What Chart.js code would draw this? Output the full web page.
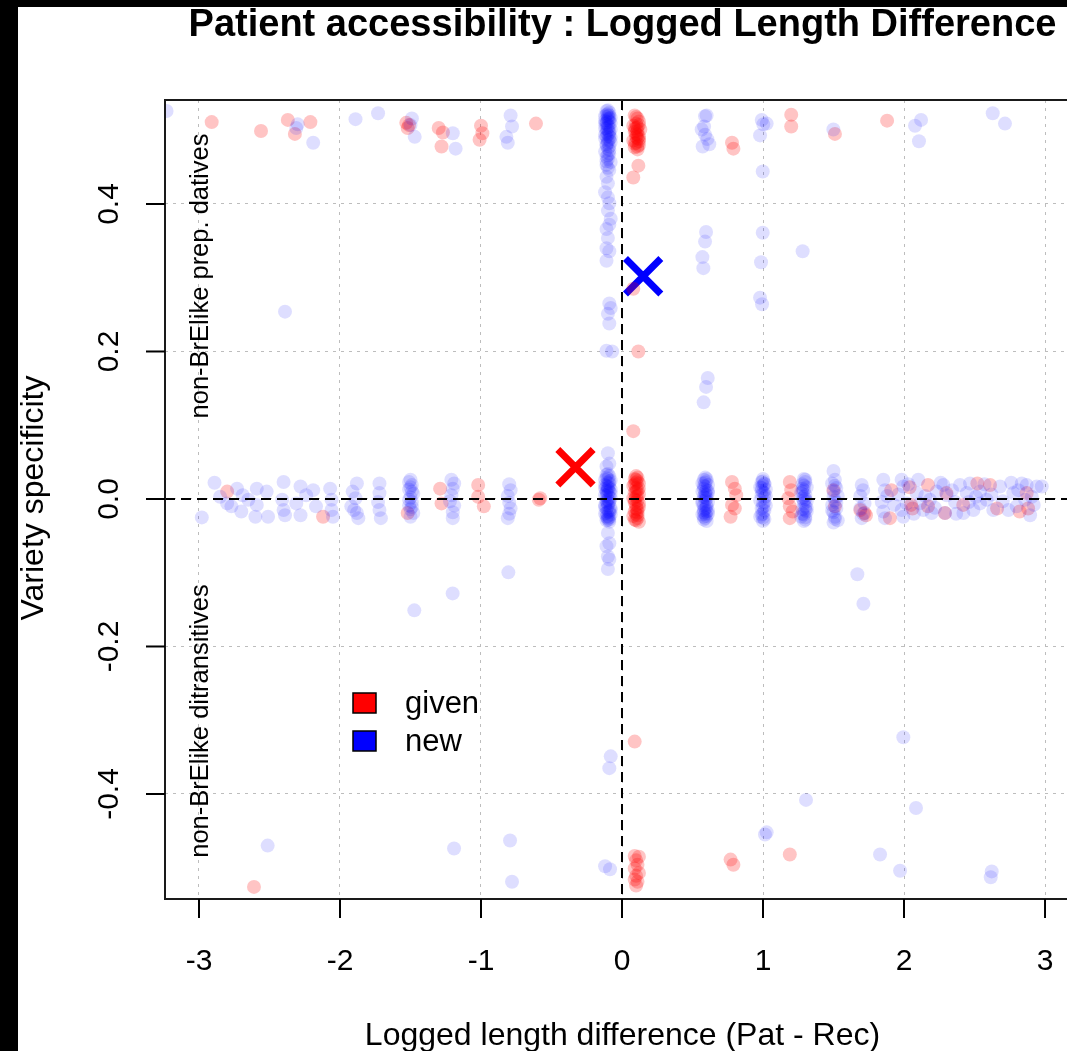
<!DOCTYPE html>
<html>
<head>
<meta charset="utf-8">
<script src="https://cdn.jsdelivr.net/npm/chart.js@4.4.1/dist/chart.umd.min.js"></script>
<style>
  html, body { margin: 0; padding: 0; background: #fff; overflow: hidden; }
  #wrap { position: relative; width: 1100px; height: 1051px; }
  #plot { position: absolute; left: 0; top: 0; }
  .band { position: absolute; background: #000; z-index: 2; }
</style>
</head>
<body>
<div id="wrap">
  <canvas id="plot" width="1100" height="1051"></canvas>
  <div class="band" style="left:0;top:0;width:18px;height:1051px"></div>
  <div class="band" style="left:0;top:0;width:1100px;height:7px"></div>
</div>
<script>
// ---- data (x = logged length difference, y = variety specificity) ----
const xTicks = [-3, -2, -1, 0, 1, 2, 3];
const yTicks = [-0.4, -0.2, 0, 0.2, 0.4];
const legendLabels = ['given', 'new'];

// new (blue)
const newTop = [
  [-3.23,0.526],[-2.31,0.503],[-2.30,0.508],[-2.19,0.483],[-1.89,0.515],[-1.73,0.523],[-1.49,0.516],
  [-1.50,0.507],[-1.47,0.491],[-1.20,0.496],[-1.18,0.475],[-0.79,0.520],[-0.78,0.505],[-0.82,0.491],
  [-0.81,0.483],[0.589,0.519],[0.60,0.520],[0.582,0.505],[0.565,0.501],[0.589,0.494],[0.605,0.488],
  [0.619,0.481],[0.572,0.478],[0.991,0.514],[1.002,0.508],[1.026,0.509],[0.979,0.493],[0.998,0.444],
  [1.499,0.501],[2.078,0.506],[2.121,0.514],[2.106,0.485],[2.629,0.523],[2.716,0.509]
];
const newStripHigh = [
  [-0.10,0.527],[-0.09,0.524],[-0.11,0.521],[-0.12,0.519],[-0.08,0.517],[-0.10,0.514],[-0.09,0.512],
  [-0.11,0.509],[-0.10,0.507],[-0.12,0.503],[-0.08,0.501],[-0.09,0.498],[-0.11,0.497],[-0.10,0.494],
  [-0.09,0.492],[-0.12,0.489],[-0.10,0.486],[-0.08,0.484],[-0.11,0.481],[-0.09,0.478],[-0.10,0.475],
  [-0.12,0.471],[-0.09,0.468],[-0.11,0.464],[-0.10,0.461],[-0.08,0.457],[-0.11,0.453],[-0.10,0.449],
  [-0.09,0.446],[-0.10,0.519],[-0.11,0.511],[-0.09,0.505],[-0.10,0.500],[-0.11,0.491],[-0.09,0.516],
  [-0.10,0.522],[-0.12,0.509],[-0.09,0.487],
  [-0.11,0.526],[-0.09,0.520],[-0.10,0.516],[-0.12,0.513],[-0.08,0.510],[-0.10,0.504],[-0.11,0.502],
  [-0.09,0.496],[-0.12,0.494],[-0.08,0.490],[-0.10,0.483],[-0.11,0.479],[-0.09,0.473],[-0.10,0.466],
  [-0.11,0.458]
];
const newStripLow = [
  [-0.11,0.437],[-0.10,0.428],[-0.12,0.416],[-0.10,0.409],[-0.09,0.401],[-0.10,0.391],[-0.08,0.380],
  [-0.09,0.372],[-0.11,0.366],[-0.10,0.354],[-0.11,0.340],[-0.09,0.336],[-0.11,0.323],[-0.09,0.265],
  [-0.08,0.259],[-0.10,0.251],[-0.09,0.238],[-0.11,0.201],[-0.07,0.200]
];
const newStripMid = [
  [-0.10,0.034],[-0.09,0.031],[-0.11,0.029],[-0.12,0.026],[-0.08,0.025],[-0.10,0.022],[-0.09,0.021],
  [-0.11,0.018],[-0.10,0.017],[-0.12,0.014],[-0.08,0.013],[-0.09,0.010],[-0.11,0.009],[-0.10,0.006],
  [-0.12,0.005],[-0.09,0.002],[-0.08,0.001],[-0.10,-0.001],[-0.11,-0.004],[-0.09,-0.005],[-0.12,-0.008],
  [-0.10,-0.009],[-0.08,-0.012],[-0.11,-0.013],[-0.09,-0.016],[-0.10,-0.017],[-0.12,-0.020],[-0.08,-0.021],
  [-0.11,-0.024],[-0.09,-0.025],[-0.10,-0.028],[-0.11,-0.029],[-0.09,-0.031],[-0.10,0.012],[-0.11,-0.002],
  [-0.09,-0.018],[-0.10,0.027],[-0.10,-0.023],
  [-0.11,0.033],[-0.09,0.024],[-0.12,0.019],[-0.10,0.015],[-0.08,0.008],[-0.11,0.004],[-0.09,-0.003],
  [-0.10,-0.006],[-0.12,-0.011],[-0.08,-0.015],[-0.11,-0.019],[-0.10,-0.026],[-0.09,-0.028],[-0.11,0.011],
  [-0.09,0.016],
  [-0.10,0.062],[-0.09,0.048],[-0.11,0.044],[-0.10,-0.046],[-0.09,-0.060],[-0.11,-0.064],[-0.10,-0.078],
  [-0.09,-0.082],[-0.10,-0.095]
];
const newMidLeft = [
  [-2.98,-0.025],[-2.89,0.022],[-2.85,0.003],[-2.80,-0.006],[-2.77,-0.010],[-2.73,0.014],[-2.69,0.005],
  [-2.70,-0.017],[-2.65,-0.001],[-2.60,-0.024],[-2.59,0.014],[-2.59,-0.008],[-2.52,0.010],[-2.51,-0.024],
  [-2.40,0.023],[-2.41,-0.001],[-2.40,-0.015],[-2.39,-0.022],[-2.31,-0.006],[-2.28,0.017],[-2.28,-0.022],
  [-2.24,0.005],[-2.19,0.012],[-2.17,-0.010],[-2.07,0.014],[-2.06,-0.001],[-2.06,-0.015],[-2.05,-0.024],
  [-1.88,0.021],[-1.91,0.010],[-1.89,0.001],[-1.92,-0.010],[-1.88,-0.019],[-1.87,-0.026],[-1.90,-0.015],
  [-1.72,0.021],[-1.72,0.008],[-1.73,-0.004],[-1.72,-0.015],[-1.71,-0.026],
  [-1.50,0.026],[-1.49,0.019],[-1.51,0.013],[-1.48,0.007],[-1.50,0.002],[-1.49,-0.004],[-1.51,-0.009],
  [-1.50,-0.014],[-1.48,-0.019],[-1.50,-0.024],[-1.49,0.010],[-1.51,-0.001],[-1.50,0.016],[-1.49,-0.011],
  [-1.51,0.023],
  [-1.21,0.026],[-1.19,0.021],[-1.20,0.014],[-1.21,0.005],[-1.22,-0.003],[-1.19,-0.009],[-1.20,-0.018],
  [-1.20,-0.026],
  [-0.80,0.020],[-0.79,0.012],[-0.81,0.004],[-0.80,-0.005],[-0.79,-0.013],[-0.80,-0.020],[-0.81,-0.026]
];
const newMidRight = [
  [0.59,0.029],[0.58,0.026],[0.60,0.024],[0.57,0.021],[0.61,0.019],[0.59,0.017],[0.58,0.014],[0.60,0.012],
  [0.57,0.010],[0.61,0.008],[0.59,0.006],[0.58,0.003],[0.60,0.001],[0.59,-0.002],[0.61,-0.004],[0.57,-0.006],
  [0.58,-0.009],[0.60,-0.011],[0.59,-0.013],[0.61,-0.016],[0.58,-0.018],[0.57,-0.021],[0.60,-0.023],
  [0.59,-0.026],[0.58,-0.028],[0.60,-0.030],[0.59,0.022],[0.60,0.005],[0.58,-0.015],[0.59,-0.020],
  [0.60,0.027],[0.58,0.018],[0.61,0.011],[0.59,0.002],[0.57,-0.003],[0.60,-0.008],[0.61,-0.020],
  [0.58,-0.024],[0.59,0.009],[0.60,-0.017],
  [1.00,0.027],[0.99,0.023],[1.01,0.020],[0.98,0.016],[1.02,0.013],[1.00,0.009],[0.99,0.005],[1.01,0.002],
  [0.98,-0.002],[1.00,-0.006],[1.02,-0.009],[0.99,-0.013],[1.01,-0.016],[1.00,-0.020],[0.98,-0.024],
  [1.01,-0.027],[1.00,-0.030],[0.99,0.011],[1.01,-0.004],[1.00,0.018],
  [1.00,0.024],[0.99,0.015],[1.02,0.004],[1.00,-0.011],[0.99,-0.021],[1.01,0.008],[1.00,-0.025],[1.01,0.021],
  [1.29,0.027],[1.30,0.023],[1.28,0.020],[1.31,0.016],[1.29,0.012],[1.27,0.008],[1.30,0.005],[1.28,0.001],
  [1.31,-0.003],[1.29,-0.006],[1.30,-0.010],[1.28,-0.014],[1.31,-0.017],[1.29,-0.021],[1.27,-0.024],
  [1.30,-0.028],[1.29,0.003],[1.30,-0.015],[1.28,0.014],[1.29,-0.030],
  [1.30,0.026],[1.28,0.010],[1.29,-0.002],[1.31,-0.012],[1.28,-0.020],[1.30,-0.025],[1.29,0.018],[1.30,0.000],
  [1.50,0.038],[1.51,0.026],[1.49,0.021],[1.52,0.015],[1.50,0.010],[1.53,0.004],[1.51,-0.002],[1.49,-0.008],
  [1.52,-0.013],[1.50,-0.018],[1.51,-0.024],[1.53,-0.029],[1.50,-0.032],
  [1.51,0.018],[1.50,0.003],[1.52,-0.005],[1.49,-0.016],[1.51,-0.027],
  [1.70,0.019],[1.71,0.012],[1.69,0.004],[1.69,-0.013],[1.71,-0.020],[1.70,-0.026],[1.72,-0.006],
  [1.853,0.026],[1.865,0.012],[1.842,-0.004],[1.853,-0.017],[1.865,-0.026],[1.983,0.026],[1.995,0.017],
  [1.983,-0.015],[1.995,-0.024],[2.019,-0.006],[2.101,0.026],[2.090,0.008],[2.113,-0.006],[2.137,-0.015],
  [2.184,-0.001],[2.196,-0.019],[2.232,0.010],[2.279,0.019],[2.303,0.005],[2.291,-0.019],[2.362,-0.004],
  [2.397,0.019],[2.445,0.008],[2.421,-0.019],[2.468,0.021],[2.492,-0.015],[2.539,0.010],[2.539,-0.006],
  [2.586,-0.001],[2.633,-0.015],[2.681,0.017],[2.740,-0.015],[2.775,0.008],[2.799,-0.010],[2.835,0.021],
  [2.858,-0.001],[2.870,0.019],[2.906,0.003],[2.894,-0.022],[2.941,0.017],[2.977,0.017],
  [1.88,0.004],[1.93,-0.008],[1.96,0.006],[2.03,0.020],[2.07,-0.020],[2.15,0.004],[2.22,-0.012],
  [2.26,0.022],[2.34,0.012],[2.37,-0.020],[2.46,-0.004],[2.51,0.003],[2.57,0.020],[2.62,0.006],
  [2.70,-0.003],[2.76,0.022],[2.81,0.012],[2.92,-0.008]
];
const newScatter = [
  [-2.39,0.254],[0.596,0.362],[0.589,0.349],[0.570,0.328],[0.577,0.313],[0.998,0.361],[0.986,0.321],
  [1.281,0.336],[0.979,0.273],[0.993,0.264],[0.608,0.164],[0.596,0.152],[0.579,0.131],
  [-0.806,-0.0995],[-1.201,-0.128],[-1.473,-0.151],[1.669,-0.102],[1.712,-0.142],[1.995,-0.323],
  [1.305,-0.408],[2.085,-0.419],[1.014,-0.455],[1.026,-0.452],[1.830,-0.482],[1.972,-0.504],
  [2.622,-0.505],[2.615,-0.513],[-2.513,-0.470],[-1.191,-0.474],[-0.794,-0.463],[-0.780,-0.519],
  [-0.08,-0.349],[-0.09,-0.365],[-0.12,-0.498],[-0.085,-0.502]
];

// given (red)
const givenTop = [
  [-2.91,0.511],[-2.56,0.499],[-2.37,0.514],[-2.32,0.495],[-2.21,0.511],[-1.53,0.510],[-1.52,0.503],
  [-1.51,0.507],[-1.30,0.503],[-1.27,0.497],[-1.28,0.478],[-1.00,0.506],[-0.99,0.496],[-1.01,0.487],
  [-0.61,0.509],[0.78,0.483],[0.79,0.475],[1.20,0.521],[1.20,0.505],[1.51,0.495],[1.88,0.513],
  [0.09,0.520],[0.11,0.516],[0.12,0.512],[0.10,0.509],[0.08,0.506],[0.11,0.504],[0.13,0.501],[0.09,0.498],
  [0.10,0.495],[0.12,0.492],[0.11,0.489],[0.08,0.486],[0.10,0.483],[0.12,0.480],[0.09,0.477],[0.11,0.474],
  [0.10,0.503],[0.11,0.494],[0.12,0.485],
  [0.10,0.518],[0.12,0.507],[0.09,0.502],[0.11,0.499],[0.10,0.491],[0.12,0.488],[0.09,0.482],[0.11,0.478],
  [0.116,0.452],[0.08,0.436],[0.08,0.285],[0.116,0.200],[0.08,0.092]
];
const givenMid = [
  [0.10,0.031],[0.09,0.027],[0.11,0.024],[0.12,0.021],[0.08,0.018],[0.10,0.015],[0.11,0.012],[0.09,0.009],
  [0.12,0.006],[0.10,0.003],[0.08,0.001],[0.11,-0.002],[0.09,-0.005],[0.10,-0.008],[0.12,-0.011],
  [0.11,-0.014],[0.09,-0.017],[0.10,-0.020],[0.08,-0.023],[0.11,-0.026],[0.10,-0.029],[0.12,-0.031],
  [0.10,0.022],[0.11,-0.018],
  [0.11,0.029],[0.09,0.020],[0.12,0.014],[0.10,0.010],[0.11,0.004],[0.09,-0.001],[0.12,-0.006],
  [0.10,-0.013],[0.11,-0.022],[0.09,-0.028],[0.10,0.026],
  [-2.80,0.010],[-2.12,-0.024],[-1.52,-0.019],[-1.29,0.014],[-1.28,-0.006],[-1.02,0.019],[-1.02,0.003],
  [-0.98,-0.010],[-0.59,-0.001],[-0.58,0.001],
  [0.78,0.023],[0.80,0.014],[0.81,0.005],[0.78,-0.008],[0.80,-0.013],[0.77,-0.024],
  [1.19,0.023],[1.20,0.012],[1.18,0.001],[1.19,-0.010],[1.21,-0.017],[1.19,-0.026],
  [1.50,0.012],[1.51,-0.010],[1.69,-0.015],[1.73,-0.022],[1.72,-0.019],[1.91,0.012],[1.90,-0.026],
  [2.04,0.016],[2.05,-0.008],[2.06,-0.013],[2.17,0.019],[2.17,-0.010],[2.30,0.008],[2.29,-0.019],
  [2.42,-0.008],[2.52,0.021],[2.61,0.019],[2.66,-0.013],[2.87,0.008],[2.88,-0.013],[2.82,-0.017]
];
const givenLow = [
  [-2.61,-0.526],[0.09,-0.329],[1.19,-0.482],[0.77,-0.489],[0.79,-0.496],
  [0.09,-0.484],[0.12,-0.485],[0.10,-0.490],[0.11,-0.496],[0.09,-0.501],[0.12,-0.507],[0.10,-0.511],
  [0.09,-0.516],[0.11,-0.519],[0.10,-0.524]
];

// group means (big crosses)
const givenMean = [-0.33, 0.043];
const newMean = [0.15, 0.302];

const FONT = '"Liberation Sans", Arial, Helvetica, sans-serif';
const toXY = pts => pts.map(([x, y]) => ({ x, y }));

// ---- extra drawing: frame, ticks, labels, reference lines, legend ----
const decor = {
  id: 'decor',
  afterDatasetsDraw(chart) {
    const { ctx, chartArea: a, scales: { x, y } } = chart;
    const x0 = x.getPixelForValue(0), y0 = y.getPixelForValue(0);
    ctx.save();
    ctx.beginPath(); ctx.rect(a.left, a.top, a.right - a.left, a.bottom - a.top); ctx.clip();
    ctx.strokeStyle = '#000'; ctx.lineWidth = 2; ctx.setLineDash([10, 6]);
    ctx.beginPath();
    ctx.moveTo(a.left, y0); ctx.lineTo(a.right, y0);
    ctx.moveTo(x0, a.top); ctx.lineTo(x0, a.bottom);
    ctx.stroke();
    ctx.restore();
  },
  afterDraw(chart) {
    const { ctx, chartArea: a, scales: { x, y } } = chart;
    ctx.save();
    // frame
    ctx.strokeStyle = '#1a1a1a'; ctx.lineWidth = 2;
    ctx.strokeRect(a.left, a.top, a.right - a.left, a.bottom - a.top);

    // tick marks + labels
    ctx.fillStyle = '#000'; ctx.strokeStyle = '#000'; ctx.lineWidth = 2;
    ctx.font = '30px ' + FONT; ctx.textAlign = 'center'; ctx.textBaseline = 'alphabetic';
    xTicks.forEach(v => {
      const px = x.getPixelForValue(v);
      ctx.beginPath(); ctx.moveTo(px, a.bottom); ctx.lineTo(px, a.bottom + 19); ctx.stroke();
      ctx.fillText(String(v), px, 970);
    });
    yTicks.forEach(v => {
      const py = y.getPixelForValue(v);
      ctx.beginPath(); ctx.moveTo(a.left, py); ctx.lineTo(a.left - 19, py); ctx.stroke();
      ctx.save(); ctx.translate(118, py); ctx.rotate(-Math.PI / 2);
      ctx.fillText(v.toFixed(1), 0, 0);
      ctx.restore();
    });

    // axis titles
    const cx = (a.left + a.right) / 2;
    ctx.font = '32px ' + FONT;
    ctx.fillText('Logged length difference (Pat - Rec)', cx, 1045);
    ctx.save(); ctx.translate(43, 498); ctx.rotate(-Math.PI / 2);
    ctx.fillText('Variety specificity', 0, 0);
    ctx.restore();

    // main title
    ctx.font = 'bold 38px ' + FONT;
    ctx.fillText('Patient accessibility : Logged Length Difference', cx, 36);

    // quadrant notes
    ctx.font = '25.5px ' + FONT;
    [['non-BrElike prep. datives', 276], ['non-BrElike ditransitives', 721]].forEach(([t, py]) => {
      ctx.save(); ctx.translate(208, py); ctx.rotate(-Math.PI / 2);
      ctx.fillText(t, 0, 0);
      ctx.restore();
    });

    // legend
    const swatch = ['#ff0000', '#0000ff'];
    ctx.font = '31px ' + FONT; ctx.textAlign = 'left'; ctx.lineWidth = 1.5;
    legendLabels.forEach((lab, i) => {
      const top = 693 + i * 38;
      ctx.fillStyle = swatch[i];
      ctx.fillRect(353, top, 23, 20);
      ctx.strokeRect(353, top, 23, 20);
      ctx.fillStyle = '#000';
      ctx.fillText(lab, 405, top + 20);
    });
    ctx.restore();
  }
};

const dot = { pointRadius: 7, pointHoverRadius: 7, borderWidth: 0, clip: 0 };

new Chart(document.getElementById('plot'), {
  type: 'scatter',
  data: {
    datasets: [
      { label: 'new', data: toXY([...newTop, ...newStripHigh, ...newStripLow, ...newStripMid,
          ...newMidLeft, ...newMidRight, ...newScatter]),
        backgroundColor: 'rgba(0,0,255,0.13)', borderColor: 'rgba(0,0,0,0)', ...dot },
      { label: 'given', data: toXY([...givenTop, ...givenMid, ...givenLow]),
        backgroundColor: 'rgba(255,0,0,0.23)', borderColor: 'rgba(0,0,0,0)', ...dot },
      { label: 'given mean', data: toXY([givenMean]), pointStyle: 'crossRot', pointRadius: 25,
        borderColor: '#ff0000', backgroundColor: '#ff0000', borderWidth: 7, clip: 0 },
      { label: 'new mean', data: toXY([newMean]), pointStyle: 'crossRot', pointRadius: 25,
        borderColor: '#0000ff', backgroundColor: '#0000ff', borderWidth: 7, clip: 0 }
    ]
  },
  options: {
    responsive: false,
    animation: false,
    devicePixelRatio: 1,
    events: [],
    layout: { autoPadding: false, padding: { left: 0, right: 20, top: 100, bottom: 0 } },
    plugins: { legend: { display: false }, tooltip: { enabled: false }, title: { display: false } },
    scales: {
      x: {
        type: 'linear', min: -3.241, max: 3.248,
        afterBuildTicks: s => { s.ticks = xTicks.map(v => ({ value: v })); },
        afterFit: s => { s.height = 152; },
        ticks: { display: false },
        grid: { color: '#bdbdbd', lineWidth: 1, drawTicks: false },
        border: { display: false, dash: [3, 5] }
      },
      y: {
        type: 'linear', min: -0.5424, max: 0.541,
        afterBuildTicks: s => { s.ticks = yTicks.map(v => ({ value: v })); },
        afterFit: s => { s.width = 165; },
        ticks: { display: false },
        grid: { color: '#bdbdbd', lineWidth: 1, drawTicks: false },
        border: { display: false, dash: [3, 5] }
      }
    }
  },
  plugins: [decor]
});
</script>
</body>
</html>
